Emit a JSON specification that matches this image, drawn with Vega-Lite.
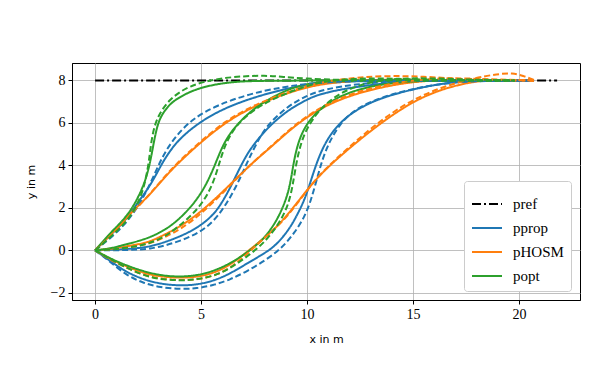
{
"$schema": "https://vega.github.io/schema/vega-lite/v6.json",
"width": 508, "height": 237,
"autosize": {"type": "none"},
"padding": {"left": 72, "top": 63, "right": 18, "bottom": 80},
"background": "white",
"config": {
  "view": {"stroke": "black", "strokeWidth": 1},
  "axis": {"domainColor": "black", "tickColor": "black", "tickSize": 4, "labelFont": "Liberation Serif", "labelFontSize": 14, "labelColor": "black", "gridColor": "#b0b0b0", "gridWidth": 0.8, "titleFont": "DejaVu Sans", "titleFontSize": 11, "titleFontWeight": "normal", "titleColor": "black", "labelPadding": 3},
  "legend": {"labelFont": "Liberation Serif", "labelFontSize": 15, "labelColor": "black"}
},
"data": {"values": [
{"m":"ref","r":"R","s":"s","x":0,"y":8},{"m":"ref","r":"R","s":"s","x":21.8,"y":8},

{"m":"prop","r":"A","s":"s","x":0,"y":0},{"m":"prop","r":"A","s":"s","x":0.7,"y":0.7},{"m":"prop","r":"A","s":"s","x":1.34,"y":1.3},{"m":"prop","r":"A","s":"s","x":1.81,"y":1.95},{"m":"prop","r":"A","s":"s","x":2.2,"y":2.5},{"m":"prop","r":"A","s":"s","x":2.56,"y":3.0},{"m":"prop","r":"A","s":"s","x":2.9,"y":3.6},{"m":"prop","r":"A","s":"s","x":3.19,"y":4.15},{"m":"prop","r":"A","s":"s","x":3.55,"y":4.7},{"m":"prop","r":"A","s":"s","x":3.98,"y":5.25},{"m":"prop","r":"A","s":"s","x":4.92,"y":6.04},{"m":"prop","r":"A","s":"s","x":6.18,"y":6.74},{"m":"prop","r":"A","s":"s","x":7.76,"y":7.29},{"m":"prop","r":"A","s":"s","x":9.33,"y":7.69},{"m":"prop","r":"A","s":"s","x":10.5,"y":7.85},{"m":"prop","r":"A","s":"s","x":12,"y":7.95},{"m":"prop","r":"A","s":"s","x":13.5,"y":8.0},{"m":"prop","r":"A","s":"s","x":20.5,"y":8.0},

{"m":"prop","r":"B","s":"s","x":0,"y":0},{"m":"prop","r":"B","s":"s","x":0.7,"y":0.02},{"m":"prop","r":"B","s":"s","x":1.34,"y":0.05},{"m":"prop","r":"B","s":"s","x":2.0,"y":0.1},{"m":"prop","r":"B","s":"s","x":2.56,"y":0.17},{"m":"prop","r":"B","s":"s","x":3.3,"y":0.38},{"m":"prop","r":"B","s":"s","x":4.13,"y":0.7},{"m":"prop","r":"B","s":"s","x":4.8,"y":1.05},{"m":"prop","r":"B","s":"s","x":5.39,"y":1.49},{"m":"prop","r":"B","s":"s","x":5.8,"y":1.95},{"m":"prop","r":"B","s":"s","x":6.18,"y":2.58},{"m":"prop","r":"B","s":"s","x":6.5,"y":3.2},{"m":"prop","r":"B","s":"s","x":6.81,"y":3.84},{"m":"prop","r":"B","s":"s","x":7.1,"y":4.4},{"m":"prop","r":"B","s":"s","x":7.44,"y":4.94},{"m":"prop","r":"B","s":"s","x":8.23,"y":5.88},{"m":"prop","r":"B","s":"s","x":9.17,"y":6.65},{"m":"prop","r":"B","s":"s","x":9.96,"y":7.08},{"m":"prop","r":"B","s":"s","x":10.44,"y":7.3},{"m":"prop","r":"B","s":"s","x":11.3,"y":7.52},{"m":"prop","r":"B","s":"s","x":12.3,"y":7.69},{"m":"prop","r":"B","s":"s","x":13.9,"y":7.9},{"m":"prop","r":"B","s":"s","x":15.4,"y":8.0},{"m":"prop","r":"B","s":"s","x":20.5,"y":8.0},

{"m":"prop","r":"C","s":"s","x":0,"y":0},{"m":"prop","r":"C","s":"s","x":0.6,"y":-0.42},{"m":"prop","r":"C","s":"s","x":1.5,"y":-1.05},{"m":"prop","r":"C","s":"s","x":2.3,"y":-1.38},{"m":"prop","r":"C","s":"s","x":3.07,"y":-1.58},{"m":"prop","r":"C","s":"s","x":4.0,"y":-1.67},{"m":"prop","r":"C","s":"s","x":4.8,"y":-1.62},{"m":"prop","r":"C","s":"s","x":5.6,"y":-1.44},{"m":"prop","r":"C","s":"s","x":6.37,"y":-1.1},{"m":"prop","r":"C","s":"s","x":7.2,"y":-0.6},{"m":"prop","r":"C","s":"s","x":8.07,"y":-0.1},{"m":"prop","r":"C","s":"s","x":8.6,"y":0.3},{"m":"prop","r":"C","s":"s","x":9.17,"y":1.01},{"m":"prop","r":"C","s":"s","x":9.5,"y":1.6},{"m":"prop","r":"C","s":"s","x":9.85,"y":2.3},{"m":"prop","r":"C","s":"s","x":10.13,"y":3.1},{"m":"prop","r":"C","s":"s","x":10.44,"y":4.1},{"m":"prop","r":"C","s":"s","x":10.9,"y":5.2},{"m":"prop","r":"C","s":"s","x":11.69,"y":6.2},{"m":"prop","r":"C","s":"s","x":12.78,"y":6.88},{"m":"prop","r":"C","s":"s","x":13.88,"y":7.3},{"m":"prop","r":"C","s":"s","x":15.44,"y":7.69},{"m":"prop","r":"C","s":"s","x":17,"y":7.95},{"m":"prop","r":"C","s":"s","x":18.5,"y":8.0},{"m":"prop","r":"C","s":"s","x":20.7,"y":8.0},

{"m":"HOSM","r":"A","s":"s","x":0,"y":0},{"m":"HOSM","r":"A","s":"s","x":0.7,"y":0.7},{"m":"HOSM","r":"A","s":"s","x":1.34,"y":1.35},{"m":"HOSM","r":"A","s":"s","x":1.81,"y":1.9},{"m":"HOSM","r":"A","s":"s","x":2.56,"y":2.58},{"m":"HOSM","r":"A","s":"s","x":3.35,"y":3.53},{"m":"HOSM","r":"A","s":"s","x":4.13,"y":4.31},{"m":"HOSM","r":"A","s":"s","x":5.08,"y":5.17},{"m":"HOSM","r":"A","s":"s","x":6.18,"y":6.04},{"m":"HOSM","r":"A","s":"s","x":7.28,"y":6.67},{"m":"HOSM","r":"A","s":"s","x":8.54,"y":7.22},{"m":"HOSM","r":"A","s":"s","x":9.96,"y":7.69},{"m":"HOSM","r":"A","s":"s","x":11.2,"y":7.9},{"m":"HOSM","r":"A","s":"s","x":12.5,"y":8.0},{"m":"HOSM","r":"A","s":"s","x":14,"y":8.05},{"m":"HOSM","r":"A","s":"s","x":16,"y":8.02},{"m":"HOSM","r":"A","s":"s","x":20.7,"y":8.0},

{"m":"HOSM","r":"B","s":"s","x":0,"y":0},{"m":"HOSM","r":"B","s":"s","x":0.7,"y":0.06},{"m":"HOSM","r":"B","s":"s","x":1.34,"y":0.16},{"m":"HOSM","r":"B","s":"s","x":2.0,"y":0.28},{"m":"HOSM","r":"B","s":"s","x":2.56,"y":0.39},{"m":"HOSM","r":"B","s":"s","x":3.3,"y":0.75},{"m":"HOSM","r":"B","s":"s","x":4.13,"y":1.18},{"m":"HOSM","r":"B","s":"s","x":5.08,"y":1.88},{"m":"HOSM","r":"B","s":"s","x":6.18,"y":2.9},{"m":"HOSM","r":"B","s":"s","x":7.28,"y":4.0},{"m":"HOSM","r":"B","s":"s","x":8.39,"y":4.94},{"m":"HOSM","r":"B","s":"s","x":9.25,"y":5.72},{"m":"HOSM","r":"B","s":"s","x":10.1,"y":6.35},{"m":"HOSM","r":"B","s":"s","x":11.06,"y":6.9},{"m":"HOSM","r":"B","s":"s","x":12.3,"y":7.38},{"m":"HOSM","r":"B","s":"s","x":13.9,"y":7.77},{"m":"HOSM","r":"B","s":"s","x":15.4,"y":7.98},{"m":"HOSM","r":"B","s":"s","x":17,"y":8.03},{"m":"HOSM","r":"B","s":"s","x":20.7,"y":8.0},

{"m":"HOSM","r":"C","s":"s","x":0,"y":0},{"m":"HOSM","r":"C","s":"s","x":0.6,"y":-0.35},{"m":"HOSM","r":"C","s":"s","x":1.34,"y":-0.7},{"m":"HOSM","r":"C","s":"s","x":2.28,"y":-1.08},{"m":"HOSM","r":"C","s":"s","x":3.2,"y":-1.26},{"m":"HOSM","r":"C","s":"s","x":4.2,"y":-1.3},{"m":"HOSM","r":"C","s":"s","x":5.0,"y":-1.23},{"m":"HOSM","r":"C","s":"s","x":5.8,"y":-1.0},{"m":"HOSM","r":"C","s":"s","x":6.5,"y":-0.6},{"m":"HOSM","r":"C","s":"s","x":7.2,"y":-0.05},{"m":"HOSM","r":"C","s":"s","x":8.2,"y":0.75},{"m":"HOSM","r":"C","s":"s","x":8.86,"y":1.4},{"m":"HOSM","r":"C","s":"s","x":9.5,"y":2.2},{"m":"HOSM","r":"C","s":"s","x":10.13,"y":3.0},{"m":"HOSM","r":"C","s":"s","x":10.75,"y":3.7},{"m":"HOSM","r":"C","s":"s","x":11.69,"y":4.55},{"m":"HOSM","r":"C","s":"s","x":12.78,"y":5.45},{"m":"HOSM","r":"C","s":"s","x":13.88,"y":6.28},{"m":"HOSM","r":"C","s":"s","x":15.1,"y":7.06},{"m":"HOSM","r":"C","s":"s","x":16.4,"y":7.61},{"m":"HOSM","r":"C","s":"s","x":17.9,"y":7.97},{"m":"HOSM","r":"C","s":"s","x":19,"y":8.02},{"m":"HOSM","r":"C","s":"s","x":20.7,"y":8.0},

{"m":"opt","r":"A","s":"s","x":0,"y":0},{"m":"opt","r":"A","s":"s","x":0.7,"y":0.8},{"m":"opt","r":"A","s":"s","x":1.34,"y":1.43},{"m":"opt","r":"A","s":"s","x":1.81,"y":2.06},{"m":"opt","r":"A","s":"s","x":2.28,"y":3.0},{"m":"opt","r":"A","s":"s","x":2.55,"y":3.9},{"m":"opt","r":"A","s":"s","x":2.72,"y":4.8},{"m":"opt","r":"A","s":"s","x":2.85,"y":5.5},{"m":"opt","r":"A","s":"s","x":3.03,"y":6.2},{"m":"opt","r":"A","s":"s","x":3.4,"y":6.75},{"m":"opt","r":"A","s":"s","x":3.82,"y":7.14},{"m":"opt","r":"A","s":"s","x":4.92,"y":7.69},{"m":"opt","r":"A","s":"s","x":6.5,"y":7.95},{"m":"opt","r":"A","s":"s","x":8.07,"y":8.0},{"m":"opt","r":"A","s":"s","x":19.8,"y":8.0},

{"m":"opt","r":"B","s":"s","x":0,"y":0},{"m":"opt","r":"B","s":"s","x":0.7,"y":0.08},{"m":"opt","r":"B","s":"s","x":1.34,"y":0.25},{"m":"opt","r":"B","s":"s","x":2.0,"y":0.42},{"m":"opt","r":"B","s":"s","x":2.56,"y":0.6},{"m":"opt","r":"B","s":"s","x":3.2,"y":0.9},{"m":"opt","r":"B","s":"s","x":3.82,"y":1.33},{"m":"opt","r":"B","s":"s","x":4.61,"y":2.11},{"m":"opt","r":"B","s":"s","x":5.24,"y":3.05},{"m":"opt","r":"B","s":"s","x":5.71,"y":4.15},{"m":"opt","r":"B","s":"s","x":6.02,"y":4.94},{"m":"opt","r":"B","s":"s","x":6.5,"y":5.72},{"m":"opt","r":"B","s":"s","x":7.28,"y":6.51},{"m":"opt","r":"B","s":"s","x":8.07,"y":7.06},{"m":"opt","r":"B","s":"s","x":9.17,"y":7.61},{"m":"opt","r":"B","s":"s","x":9.96,"y":7.84},{"m":"opt","r":"B","s":"s","x":11,"y":7.95},{"m":"opt","r":"B","s":"s","x":12.5,"y":8.0},{"m":"opt","r":"B","s":"s","x":19.8,"y":8.0},

{"m":"opt","r":"C","s":"s","x":0,"y":0},{"m":"opt","r":"C","s":"s","x":0.6,"y":-0.33},{"m":"opt","r":"C","s":"s","x":1.34,"y":-0.66},{"m":"opt","r":"C","s":"s","x":2.28,"y":-1.0},{"m":"opt","r":"C","s":"s","x":3.2,"y":-1.2},{"m":"opt","r":"C","s":"s","x":4.0,"y":-1.25},{"m":"opt","r":"C","s":"s","x":4.8,"y":-1.19},{"m":"opt","r":"C","s":"s","x":5.6,"y":-0.98},{"m":"opt","r":"C","s":"s","x":6.37,"y":-0.62},{"m":"opt","r":"C","s":"s","x":7.0,"y":-0.22},{"m":"opt","r":"C","s":"s","x":7.6,"y":0.22},{"m":"opt","r":"C","s":"s","x":8.1,"y":0.72},{"m":"opt","r":"C","s":"s","x":8.54,"y":1.35},{"m":"opt","r":"C","s":"s","x":8.9,"y":2.1},{"m":"opt","r":"C","s":"s","x":9.17,"y":2.9},{"m":"opt","r":"C","s":"s","x":9.33,"y":3.9},{"m":"opt","r":"C","s":"s","x":9.5,"y":4.8},{"m":"opt","r":"C","s":"s","x":9.81,"y":5.7},{"m":"opt","r":"C","s":"s","x":10.44,"y":6.55},{"m":"opt","r":"C","s":"s","x":11.53,"y":7.3},{"m":"opt","r":"C","s":"s","x":13.1,"y":7.77},{"m":"opt","r":"C","s":"s","x":14.7,"y":7.95},{"m":"opt","r":"C","s":"s","x":16,"y":8.0},{"m":"opt","r":"C","s":"s","x":19.8,"y":8.0},

{"m":"prop","r":"A","s":"d","x":0,"y":0},{"m":"prop","r":"A","s":"d","x":0.7,"y":0.55},{"m":"prop","r":"A","s":"d","x":1.34,"y":1.15},{"m":"prop","r":"A","s":"d","x":1.81,"y":1.75},{"m":"prop","r":"A","s":"d","x":2.2,"y":2.35},{"m":"prop","r":"A","s":"d","x":2.72,"y":3.37},{"m":"prop","r":"A","s":"d","x":3.19,"y":4.47},{"m":"prop","r":"A","s":"d","x":3.82,"y":5.41},{"m":"prop","r":"A","s":"d","x":4.61,"y":6.2},{"m":"prop","r":"A","s":"d","x":5.71,"y":6.82},{"m":"prop","r":"A","s":"d","x":7.28,"y":7.37},{"m":"prop","r":"A","s":"d","x":8.86,"y":7.69},{"m":"prop","r":"A","s":"d","x":9.96,"y":7.84},{"m":"prop","r":"A","s":"d","x":11.5,"y":7.95},{"m":"prop","r":"A","s":"d","x":13,"y":8.0},{"m":"prop","r":"A","s":"d","x":20.5,"y":8.0},

{"m":"prop","r":"B","s":"d","x":0,"y":0},{"m":"prop","r":"B","s":"d","x":0.7,"y":0.0},{"m":"prop","r":"B","s":"d","x":1.34,"y":0.01},{"m":"prop","r":"B","s":"d","x":2.0,"y":0.03},{"m":"prop","r":"B","s":"d","x":2.56,"y":0.07},{"m":"prop","r":"B","s":"d","x":3.3,"y":0.22},{"m":"prop","r":"B","s":"d","x":4.13,"y":0.48},{"m":"prop","r":"B","s":"d","x":4.95,"y":0.85},{"m":"prop","r":"B","s":"d","x":5.55,"y":1.33},{"m":"prop","r":"B","s":"d","x":6.0,"y":1.9},{"m":"prop","r":"B","s":"d","x":6.34,"y":2.43},{"m":"prop","r":"B","s":"d","x":6.7,"y":3.1},{"m":"prop","r":"B","s":"d","x":6.97,"y":3.68},{"m":"prop","r":"B","s":"d","x":7.25,"y":4.3},{"m":"prop","r":"B","s":"d","x":7.6,"y":5.0},{"m":"prop","r":"B","s":"d","x":8.07,"y":5.85},{"m":"prop","r":"B","s":"d","x":9.02,"y":6.74},{"m":"prop","r":"B","s":"d","x":9.96,"y":7.29},{"m":"prop","r":"B","s":"d","x":10.9,"y":7.6},{"m":"prop","r":"B","s":"d","x":12.3,"y":7.82},{"m":"prop","r":"B","s":"d","x":13.9,"y":7.96},{"m":"prop","r":"B","s":"d","x":15.4,"y":8.0},{"m":"prop","r":"B","s":"d","x":20.5,"y":8.0},

{"m":"prop","r":"C","s":"d","x":0,"y":0},{"m":"prop","r":"C","s":"d","x":0.6,"y":-0.45},{"m":"prop","r":"C","s":"d","x":1.5,"y":-1.2},{"m":"prop","r":"C","s":"d","x":2.3,"y":-1.55},{"m":"prop","r":"C","s":"d","x":3.07,"y":-1.75},{"m":"prop","r":"C","s":"d","x":4.0,"y":-1.83},{"m":"prop","r":"C","s":"d","x":4.8,"y":-1.8},{"m":"prop","r":"C","s":"d","x":5.6,"y":-1.64},{"m":"prop","r":"C","s":"d","x":6.37,"y":-1.38},{"m":"prop","r":"C","s":"d","x":7.2,"y":-0.97},{"m":"prop","r":"C","s":"d","x":8.07,"y":-0.45},{"m":"prop","r":"C","s":"d","x":8.8,"y":0.1},{"m":"prop","r":"C","s":"d","x":9.4,"y":0.8},{"m":"prop","r":"C","s":"d","x":9.9,"y":1.6},{"m":"prop","r":"C","s":"d","x":10.2,"y":2.4},{"m":"prop","r":"C","s":"d","x":10.45,"y":3.3},{"m":"prop","r":"C","s":"d","x":10.7,"y":4.2},{"m":"prop","r":"C","s":"d","x":11.0,"y":5.0},{"m":"prop","r":"C","s":"d","x":11.5,"y":5.9},{"m":"prop","r":"C","s":"d","x":12.3,"y":6.7},{"m":"prop","r":"C","s":"d","x":13.56,"y":7.22},{"m":"prop","r":"C","s":"d","x":14.97,"y":7.61},{"m":"prop","r":"C","s":"d","x":16.5,"y":7.87},{"m":"prop","r":"C","s":"d","x":18,"y":7.98},{"m":"prop","r":"C","s":"d","x":20.5,"y":8.0},

{"m":"HOSM","r":"A","s":"d","x":0,"y":0},{"m":"HOSM","r":"A","s":"d","x":0.7,"y":0.65},{"m":"HOSM","r":"A","s":"d","x":1.34,"y":1.3},{"m":"HOSM","r":"A","s":"d","x":1.81,"y":1.85},{"m":"HOSM","r":"A","s":"d","x":2.56,"y":2.6},{"m":"HOSM","r":"A","s":"d","x":3.35,"y":3.56},{"m":"HOSM","r":"A","s":"d","x":4.13,"y":4.36},{"m":"HOSM","r":"A","s":"d","x":5.08,"y":5.22},{"m":"HOSM","r":"A","s":"d","x":6.18,"y":6.1},{"m":"HOSM","r":"A","s":"d","x":7.28,"y":6.72},{"m":"HOSM","r":"A","s":"d","x":8.54,"y":7.27},{"m":"HOSM","r":"A","s":"d","x":9.96,"y":7.75},{"m":"HOSM","r":"A","s":"d","x":11.2,"y":8.0},{"m":"HOSM","r":"A","s":"d","x":12.5,"y":8.15},{"m":"HOSM","r":"A","s":"d","x":14,"y":8.22},{"m":"HOSM","r":"A","s":"d","x":15.5,"y":8.18},{"m":"HOSM","r":"A","s":"d","x":17,"y":8.08},{"m":"HOSM","r":"A","s":"d","x":18.5,"y":8.02},{"m":"HOSM","r":"A","s":"d","x":20.7,"y":8.0},

{"m":"HOSM","r":"B","s":"d","x":0,"y":0},{"m":"HOSM","r":"B","s":"d","x":0.7,"y":0.03},{"m":"HOSM","r":"B","s":"d","x":1.34,"y":0.1},{"m":"HOSM","r":"B","s":"d","x":2.0,"y":0.2},{"m":"HOSM","r":"B","s":"d","x":2.56,"y":0.3},{"m":"HOSM","r":"B","s":"d","x":3.3,"y":0.62},{"m":"HOSM","r":"B","s":"d","x":4.13,"y":1.05},{"m":"HOSM","r":"B","s":"d","x":5.08,"y":1.78},{"m":"HOSM","r":"B","s":"d","x":6.18,"y":2.85},{"m":"HOSM","r":"B","s":"d","x":7.28,"y":4.0},{"m":"HOSM","r":"B","s":"d","x":8.39,"y":4.97},{"m":"HOSM","r":"B","s":"d","x":9.25,"y":5.76},{"m":"HOSM","r":"B","s":"d","x":10.1,"y":6.4},{"m":"HOSM","r":"B","s":"d","x":11.06,"y":6.95},{"m":"HOSM","r":"B","s":"d","x":12.3,"y":7.45},{"m":"HOSM","r":"B","s":"d","x":13.9,"y":7.85},{"m":"HOSM","r":"B","s":"d","x":15.4,"y":8.05},{"m":"HOSM","r":"B","s":"d","x":17,"y":8.12},{"m":"HOSM","r":"B","s":"d","x":18.5,"y":8.05},{"m":"HOSM","r":"B","s":"d","x":20.7,"y":8.0},

{"m":"HOSM","r":"C","s":"d","x":0,"y":0},{"m":"HOSM","r":"C","s":"d","x":0.6,"y":-0.38},{"m":"HOSM","r":"C","s":"d","x":1.34,"y":-0.76},{"m":"HOSM","r":"C","s":"d","x":2.28,"y":-1.18},{"m":"HOSM","r":"C","s":"d","x":3.2,"y":-1.37},{"m":"HOSM","r":"C","s":"d","x":4.2,"y":-1.42},{"m":"HOSM","r":"C","s":"d","x":5.0,"y":-1.36},{"m":"HOSM","r":"C","s":"d","x":5.8,"y":-1.14},{"m":"HOSM","r":"C","s":"d","x":6.5,"y":-0.75},{"m":"HOSM","r":"C","s":"d","x":7.2,"y":-0.15},{"m":"HOSM","r":"C","s":"d","x":8.0,"y":0.6},{"m":"HOSM","r":"C","s":"d","x":8.86,"y":1.35},{"m":"HOSM","r":"C","s":"d","x":9.5,"y":2.15},{"m":"HOSM","r":"C","s":"d","x":10.13,"y":3.0},{"m":"HOSM","r":"C","s":"d","x":10.75,"y":3.72},{"m":"HOSM","r":"C","s":"d","x":11.69,"y":4.6},{"m":"HOSM","r":"C","s":"d","x":12.78,"y":5.55},{"m":"HOSM","r":"C","s":"d","x":13.88,"y":6.4},{"m":"HOSM","r":"C","s":"d","x":15.1,"y":7.15},{"m":"HOSM","r":"C","s":"d","x":16.4,"y":7.7},{"m":"HOSM","r":"C","s":"d","x":17.9,"y":8.12},{"m":"HOSM","r":"C","s":"d","x":19.0,"y":8.3},{"m":"HOSM","r":"C","s":"d","x":19.7,"y":8.35},{"m":"HOSM","r":"C","s":"d","x":20.2,"y":8.22},{"m":"HOSM","r":"C","s":"d","x":20.7,"y":8.02},

{"m":"opt","r":"A","s":"d","x":0,"y":0},{"m":"opt","r":"A","s":"d","x":0.7,"y":0.6},{"m":"opt","r":"A","s":"d","x":1.34,"y":1.2},{"m":"opt","r":"A","s":"d","x":1.81,"y":1.8},{"m":"opt","r":"A","s":"d","x":2.2,"y":2.6},{"m":"opt","r":"A","s":"d","x":2.45,"y":3.6},{"m":"opt","r":"A","s":"d","x":2.58,"y":4.5},{"m":"opt","r":"A","s":"d","x":2.66,"y":5.2},{"m":"opt","r":"A","s":"d","x":2.87,"y":6.2},{"m":"opt","r":"A","s":"d","x":3.5,"y":7.14},{"m":"opt","r":"A","s":"d","x":4.45,"y":7.76},{"m":"opt","r":"A","s":"d","x":5.71,"y":8.08},{"m":"opt","r":"A","s":"d","x":6.97,"y":8.2},{"m":"opt","r":"A","s":"d","x":8.0,"y":8.23},{"m":"opt","r":"A","s":"d","x":8.86,"y":8.17},{"m":"opt","r":"A","s":"d","x":9.96,"y":8.08},{"m":"opt","r":"A","s":"d","x":11.5,"y":8.02},{"m":"opt","r":"A","s":"d","x":13,"y":8.0},{"m":"opt","r":"A","s":"d","x":19.8,"y":8.0},

{"m":"opt","r":"B","s":"d","x":0,"y":0},{"m":"opt","r":"B","s":"d","x":0.7,"y":0.03},{"m":"opt","r":"B","s":"d","x":1.34,"y":0.1},{"m":"opt","r":"B","s":"d","x":2.0,"y":0.2},{"m":"opt","r":"B","s":"d","x":2.56,"y":0.33},{"m":"opt","r":"B","s":"d","x":3.2,"y":0.6},{"m":"opt","r":"B","s":"d","x":3.82,"y":1.01},{"m":"opt","r":"B","s":"d","x":4.92,"y":1.96},{"m":"opt","r":"B","s":"d","x":5.55,"y":3.05},{"m":"opt","r":"B","s":"d","x":5.87,"y":4.15},{"m":"opt","r":"B","s":"d","x":6.18,"y":5.1},{"m":"opt","r":"B","s":"d","x":6.65,"y":5.88},{"m":"opt","r":"B","s":"d","x":7.43,"y":6.59},{"m":"opt","r":"B","s":"d","x":8.39,"y":7.14},{"m":"opt","r":"B","s":"d","x":9.96,"y":7.76},{"m":"opt","r":"B","s":"d","x":11,"y":7.98},{"m":"opt","r":"B","s":"d","x":12.2,"y":8.08},{"m":"opt","r":"B","s":"d","x":13.5,"y":8.1},{"m":"opt","r":"B","s":"d","x":15,"y":8.05},{"m":"opt","r":"B","s":"d","x":17,"y":8.0},{"m":"opt","r":"B","s":"d","x":19.8,"y":8.0},

{"m":"opt","r":"C","s":"d","x":0,"y":0},{"m":"opt","r":"C","s":"d","x":0.6,"y":-0.35},{"m":"opt","r":"C","s":"d","x":1.34,"y":-0.75},{"m":"opt","r":"C","s":"d","x":2.28,"y":-1.18},{"m":"opt","r":"C","s":"d","x":3.07,"y":-1.37},{"m":"opt","r":"C","s":"d","x":4.0,"y":-1.42},{"m":"opt","r":"C","s":"d","x":4.64,"y":-1.39},{"m":"opt","r":"C","s":"d","x":5.5,"y":-1.24},{"m":"opt","r":"C","s":"d","x":6.21,"y":-0.95},{"m":"opt","r":"C","s":"d","x":7.0,"y":-0.42},{"m":"opt","r":"C","s":"d","x":7.78,"y":0.17},{"m":"opt","r":"C","s":"d","x":8.3,"y":0.75},{"m":"opt","r":"C","s":"d","x":8.73,"y":1.35},{"m":"opt","r":"C","s":"d","x":9.1,"y":2.1},{"m":"opt","r":"C","s":"d","x":9.3,"y":2.9},{"m":"opt","r":"C","s":"d","x":9.45,"y":3.86},{"m":"opt","r":"C","s":"d","x":9.66,"y":4.9},{"m":"opt","r":"C","s":"d","x":9.97,"y":5.73},{"m":"opt","r":"C","s":"d","x":10.6,"y":6.67},{"m":"opt","r":"C","s":"d","x":11.5,"y":7.38},{"m":"opt","r":"C","s":"d","x":12.5,"y":7.8},{"m":"opt","r":"C","s":"d","x":13.5,"y":8.0},{"m":"opt","r":"C","s":"d","x":14.5,"y":8.1},{"m":"opt","r":"C","s":"d","x":16,"y":8.1},{"m":"opt","r":"C","s":"d","x":17.5,"y":8.04},{"m":"opt","r":"C","s":"d","x":19.8,"y":8.0}
]},
"encoding": {
  "x": {"field": "x", "type": "quantitative", "scale": {"domain": [-1.09, 22.88], "nice": false, "zero": false}, "axis": {"title": "x in m", "values": [0, 5, 10, 15, 20], "titlePadding": 12}},
  "y": {"field": "y", "type": "quantitative", "scale": {"domain": [-2.34, 8.82], "nice": false, "zero": false}, "axis": {"title": "y in m", "values": [-2, 0, 2, 4, 6, 8], "titlePadding": 14}},
  "color": {"field": "m", "type": "nominal", "scale": {"domain": ["ref", "prop", "HOSM", "opt"], "range": ["#000000", "#1f77b4", "#ff7f0e", "#2ca02c"]},
    "legend": {"title": null, "orient": "bottom-right", "offset": 9, "symbolType": "stroke", "symbolSize": 900, "symbolStrokeWidth": 2, "rowPadding": -7, "labelOffset": 10, "padding": 7, "fillColor": "white", "strokeColor": "#cccccc", "cornerRadius": 3, "labelExpr": "'p' + datum.label"}}
},
"layer": [
  {"transform": [{"filter": "datum.m === 'ref'"}], "mark": {"type": "line", "strokeWidth": 2},
   "encoding": {"strokeDash": {"field": "m", "type": "nominal", "scale": {"domain": ["ref", "prop", "HOSM", "opt"], "range": [[9, 3, 2, 3], [1, 0], [1, 0], [1, 0]]}, "legend": {"title": null, "orient": "bottom-right", "offset": 9, "symbolType": "stroke", "symbolSize": 900, "symbolStrokeWidth": 2, "rowPadding": -7, "labelOffset": 10, "padding": 7, "fillColor": "white", "strokeColor": "#cccccc", "cornerRadius": 3, "labelExpr": "'p' + datum.label"}}}},
  {"transform": [{"filter": "datum.m !== 'ref' && datum.s === 's'"}], "mark": {"type": "line", "strokeWidth": 2, "interpolate": "basis"},
   "encoding": {"detail": {"field": "r"}, "strokeDash": {"field": "m", "type": "nominal"}}},
  {"transform": [{"filter": "datum.s === 'd'"}], "mark": {"type": "line", "strokeWidth": 2, "interpolate": "basis", "strokeDash": [6, 3]},
   "encoding": {"detail": {"field": "r"}}}
]
}
